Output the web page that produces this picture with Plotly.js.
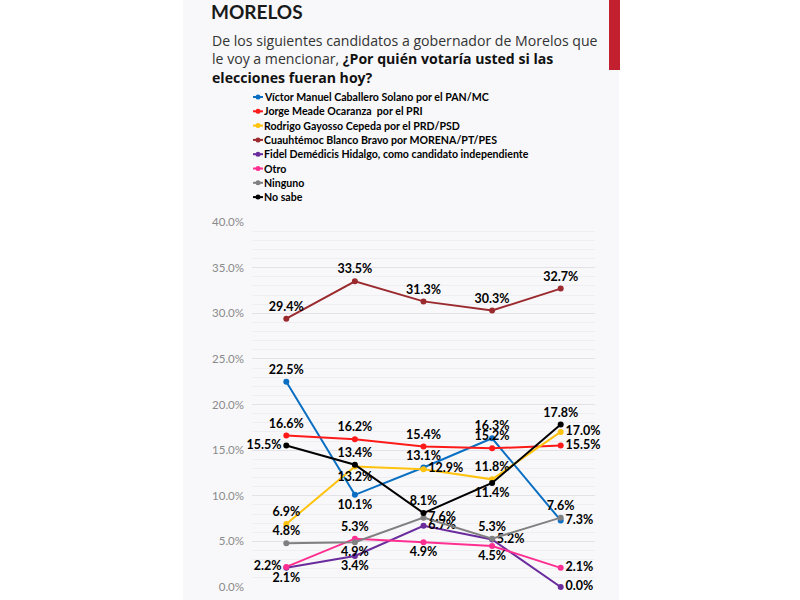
<!DOCTYPE html>
<html>
<head>
<meta charset="utf-8">
<script src="https://cdn.plot.ly/plotly-3.0.1.min.js"></script>
<style>html,body{margin:0;padding:0;background:#fff;}#chart{width:800px;height:600px;}</style>
</head>
<body>
<div id="chart"></div>
<script>
// ---- data ----
const categories = ['Medición 1', 'Medición 2', 'Medición 3', 'Medición 4', 'Medición 5'];
const seriesNames = [
  'Víctor Manuel Caballero Solano por el PAN/MC',
  'Jorge Meade Ocaranza  por el PRI',
  'Rodrigo Gayosso Cepeda por el PRD/PSD',
  'Cuauhtémoc Blanco Bravo por MORENA/PT/PES',
  'Fidel Demédicis Hidalgo, como candidato independiente',
  'Otro',
  'Ninguno',
  'No sabe'
];
const victor    = [22.5, 10.1, 13.1, 16.3, 7.3];
const jorge     = [16.6, 16.2, 15.4, 15.2, 15.5];
const rodrigo   = [6.9, 13.2, 12.9, 11.8, 17.0];
const cuauhtemoc= [29.4, 33.5, 31.3, 30.3, 32.7];
const fidel     = [2.1, 3.4, 6.7, 5.2, 0.0];
const otro      = [2.2, 5.3, 4.9, 4.5, 2.1];
const ninguno   = [4.8, 4.9, 7.6, 5.3, 7.6];
const noSabe    = [15.5, 13.4, 8.1, 11.4, 17.8];
const yTicks = [0, 5, 10, 15, 20, 25, 30, 35, 40];

// ---- styles ----
const colors = ['#0a6fc2', '#ff1a1a', '#ffc20e', '#9b2a2e', '#6a2c9c', '#ff2f92', '#808080', '#000000'];
const T = 'top center', B = 'bottom center', R = 'middle right', L = 'middle left';
const labelPos = [
  [T, B, T, T, R],
  [T, T, T, T, R],
  [T, B, R, T, R],
  [T, T, T, T, T],
  [B, B, R, R, R],
  [L, T, B, B, R],
  [T, B, R, T, T],
  [L, T, T, B, T]
];
const allValues = [victor, jorge, rodrigo, cuauhtemoc, fidel, otro, ninguno, noSabe];

const FONT = 'Lato, "Open Sans", sans-serif';
const FONT2 = '"Open Sans", Lato, sans-serif';
const traces = allValues.map((vals, i) => ({
  type: 'scatter',
  mode: 'lines+markers+text',
  name: seriesNames[i],
  x: categories,
  y: vals,
  text: vals.map(v => v.toFixed(1) + '%'),
  textposition: labelPos[i],
  textfont: {family: FONT, size: 12.5, color: '#000', weight: 700},
  line: {color: colors[i], width: 2},
  marker: {color: colors[i], size: 6},
  cliponaxis: false,
  showlegend: false,
  hoverinfo: 'skip'
}));

// pixel -> paper helpers (plot area: x 252..595, y 222..587)
const L0 = 252, PW = 343, B0 = 587, PH = 365;
const px = p => (p - L0) / PW;
const py = p => (B0 - p) / PH;

const shapes = [
  {type: 'rect', xref: 'paper', yref: 'paper', x0: px(183), x1: px(619), y0: py(600), y1: py(0),
   fillcolor: '#f8f8fa', line: {width: 0}, layer: 'below'},
  {type: 'rect', xref: 'paper', yref: 'paper', x0: px(609), x1: px(620), y0: py(70), y1: py(0),
   fillcolor: '#c2202f', line: {width: 0}, layer: 'below'}
];
const annotations = [
  {xref: 'paper', yref: 'paper', x: px(210), y: py(29), xanchor: 'left', yanchor: 'top', align: 'left',
   showarrow: false, font: {family: FONT2, size: 14.1, color: '#333'},
   text: 'De los siguientes candidatos a gobernador de Morelos que<br>le voy a mencionar, <b style="color:#111">¿Por quién votaría usted si las</b><br><b style="color:#111">elecciones fueran hoy?</b>'}
];
seriesNames.forEach((n, i) => {
  const yy = 97 + i * 14.3;
  shapes.push({type: 'line', xref: 'paper', yref: 'paper', x0: px(253), x1: px(263), y0: py(yy), y1: py(yy),
    line: {color: colors[i], width: 2}});
  shapes.push({type: 'circle', xref: 'paper', yref: 'paper', x0: px(255.5), x1: px(260.5), y0: py(yy + 2.5), y1: py(yy - 2.5),
    fillcolor: colors[i], line: {width: 0}});
  annotations.push({xref: 'paper', yref: 'paper', x: px(262), y: py(yy), xanchor: 'left', yanchor: 'middle',
    showarrow: false, text: '<b>' + n + '</b>', font: {family: FONT, size: 10.6, color: '#000'}});
});

const layout = {
  width: 800, height: 600,
  margin: {l: L0, r: 800 - L0 - PW, t: B0 - PH, b: 600 - B0},
  paper_bgcolor: '#ffffff',
  plot_bgcolor: 'rgba(0,0,0,0)',
  showlegend: false,
  title: {text: 'MORELOS', x: 211 / 800, xref: 'container', xanchor: 'left', y: 1 - 12.5 / 600, yref: 'container', yanchor: 'middle',
    font: {family: FONT, size: 19, color: '#1a1a1a', weight: 700}},
  xaxis: {type: 'category', range: [-0.5, 4.5], showgrid: false, showticklabels: false, zeroline: false, showline: false, fixedrange: true},
  yaxis: {range: [0, 40], tickvals: yTicks, ticktext: yTicks.map(v => v.toFixed(1) + '%'),
    gridcolor: '#e2e2e8', gridwidth: 1, zeroline: false, showline: false,
    minor: {dtick: 1, showgrid: true, gridcolor: '#efeff3', gridwidth: 1},
    ticklabelstandoff: 7,
    tickfont: {family: FONT, size: 11.5, color: '#8a8a8a'}},
  shapes: shapes,
  annotations: annotations
};
Plotly.newPlot('chart', traces, layout, {displayModeBar: false, staticPlot: true});
</script>
</body>
</html>
